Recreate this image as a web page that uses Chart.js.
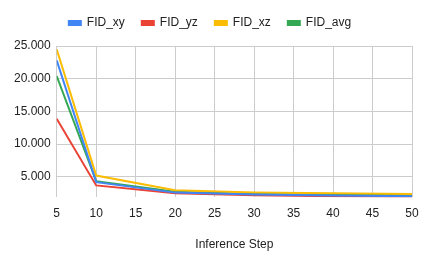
<!DOCTYPE html>
<html><head><meta charset="utf-8">
<script src="https://cdn.jsdelivr.net/npm/chart.js@4/dist/chart.umd.min.js"></script>
<style>html,body{margin:0;padding:0;background:#fff}#w{width:425px;height:264px}</style>
</head><body><div id="w"><canvas id="c"></canvas></div>
<script>
const steps = [5, 10, 20, 30, 40, 50];
const fidXY = [22.8, 4.2, 2.6, 2.3, 2.15, 2.05];
const fidYZ = [13.9, 3.7, 2.5, 2.2, 2.05, 1.9];
const fidXZ = [24.5, 5.2, 2.95, 2.6, 2.5, 2.4];
const fidAvg = [20.4, 4.35, 2.75, 2.4, 2.3, 2.2];
const yTicks = [5, 10, 15, 20, 25];
const yTickLabels = ['5.000', '10.000', '15.000', '20.000', '25.000'];
const xTicks = [5, 10, 15, 20, 25, 30, 35, 40, 45, 50];

function pts(v){ return steps.map((s,i)=>({x:s,y:v[i]})); }
const mk = (label, data, color) => ({label, data: pts(data), borderColor: color, backgroundColor: color,
  borderWidth: 2, pointRadius: 0, tension: 0, fill: false});

Chart.defaults.font.family = "'Liberation Sans', Arial, sans-serif";
Chart.defaults.font.size = 12;
Chart.defaults.color = '#222';

const legendMargin = { id: 'legendMargin', beforeInit(chart) {
  const orig = chart.legend.fit;
  chart.legend.fit = function () { orig.bind(chart.legend)(); this.height += 7; };
}};

new Chart(document.getElementById('c'), {
  type: 'line',
  data: { datasets: [
    mk('FID_xy', fidXY, '#4285F4'),
    mk('FID_yz', fidYZ, '#EA4335'),
    mk('FID_xz', fidXZ, '#FBBC04'),
    mk('FID_avg', fidAvg, '#34A853')
  ]},
  plugins: [legendMargin],
  options: {
    responsive: true, maintainAspectRatio: false, animation: false,
    layout: { padding: { left: 8, right: 13, top: 0, bottom: 8 } },
    plugins: {
      legend: { position: 'top', labels: { boxWidth: 12, boxHeight: 4, padding: 17, color: '#222', font: { size: 12 } } },
      tooltip: { enabled: false }
    },
    scales: {
      x: { type: 'linear', min: 5, max: 50,
        afterBuildTicks: a => { a.ticks = xTicks.map(v => ({value: v})); },
        afterFit: s => { s.paddingRight = 0; },
        ticks: { color: '#222', padding: 9, maxRotation: 0, callback: v => String(v) },
        grid: { color: '#cccccc', drawTicks: false },
        border: { display: false },
        title: { display: true, text: 'Inference Step', color: '#222', font: { size: 12 }, padding: { top: 8 } } },
      y: { type: 'linear', min: 1.9, max: 25,
        afterBuildTicks: a => { a.ticks = yTicks.map(v => ({value: v})); },
        ticks: { color: '#222', padding: 6, callback: v => yTickLabels[yTicks.indexOf(v)] ?? '' },
        grid: { color: '#cccccc', drawTicks: false },
        border: { display: false } }
    }
  }
});
</script></body></html>
